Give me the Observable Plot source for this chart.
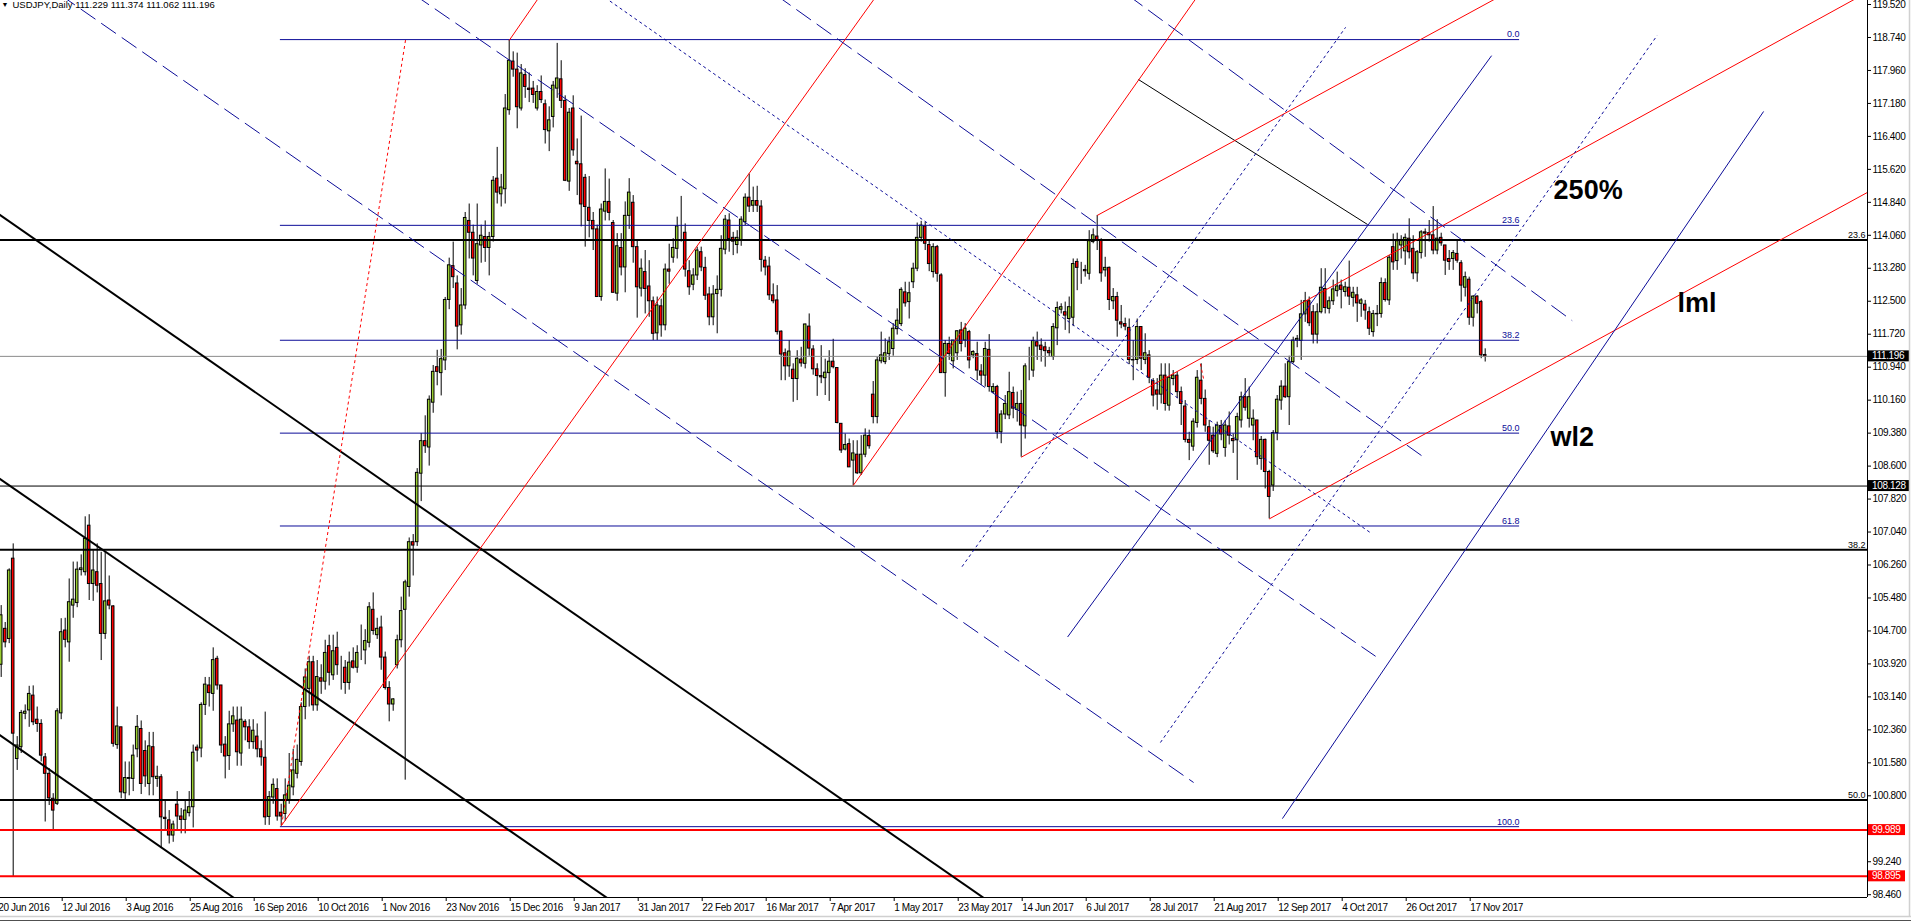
<!DOCTYPE html>
<html><head><meta charset="utf-8">
<script src="https://cdn.jsdelivr.net/npm/d3@7"></script>
<script src="https://cdn.jsdelivr.net/npm/@observablehq/plot@0.6"></script>
<style>html,body{margin:0;padding:0;background:#fff;overflow:hidden;}#chart svg{display:block;}
#chart svg [aria-label="x-axis tick label"],#chart svg [aria-label="y-axis tick label"],#chart svg .pricebox{letter-spacing:-0.35px;}</style>
</head><body><div id="chart"></div>
<script>
// ---------- DATA ----------
const symbolTitle = "USDJPY,Daily 111.229 111.374 111.062 111.196";
const firstBar = 1; // bar index of the first candle (bar 0 = 20 Jun 2016)

const opens = [
103.9,104.75,104.51,106.41,101.67,101.95,102.74,102.82,103.17,102.6,
102.5,101.71,101.32,100.73,100.61,102.75,104.71,104.43,105.3,105.36,
106.14,106.09,107.19,105.81,106.09,105.81,104.63,105.42,105.28,102.0,
102.42,100.86,101.2,101.2,101.9,102.38,101.86,101.08,101.95,101.2,
101.24,100.28,100.22,99.86,100.59,100.31,100.23,100.39,100.53,101.94,
101.92,102.95,103.41,103.21,104.04,103.41,102.01,101.74,102.49,102.58,
101.8,102.55,102.42,102.07,102.2,101.9,101.7,100.3,100.76,100.96,
100.4,100.37,100.7,101.0,101.32,101.6,102.9,103.33,103.96,102.94,
103.58,103.5,104.34,103.65,104.3,103.87,103.83,103.47,103.98,103.83,
104.2,104.24,104.42,105.2,104.6,104.78,104.07,103.35,102.96,103.89,
104.48,105.2,105.74,106.8,106.8,108.42,109.19,109.04,110.1,110.94,
110.8,111.1,112.53,113.33,112.92,111.93,112.4,114.4,114.12,112.98,
113.82,114.02,113.76,114.02,115.4,115.03,115.15,117.02,118.17,117.98,
117.06,117.85,117.53,117.53,117.06,117.45,117.16,116.52,116.86,117.53,
117.75,117.24,115.33,117.06,115.8,115.74,115.42,114.71,114.4,114.2,
112.6,114.62,114.85,114.35,112.68,113.76,113.3,114.52,114.83,113.78,
112.8,113.19,112.85,112.5,111.74,112.38,111.93,113.25,113.53,113.74,
114.2,114.12,113.21,112.89,113.11,113.66,113.29,112.66,112.12,112.67,
112.77,113.72,114.41,114.0,113.83,113.95,114.37,114.95,114.76,114.87,
114.74,113.46,113.32,112.64,112.52,111.78,111.27,110.96,110.88,110.66,
111.12,111.02,111.9,111.36,110.89,110.73,110.68,110.8,111.07,110.92,
109.6,108.99,109.12,108.73,108.87,108.43,108.87,109.31,110.29,109.76,
111.08,111.06,111.25,111.37,111.84,111.96,112.71,112.48,112.95,113.27,
114.0,114.27,113.83,113.19,113.78,113.11,110.8,111.49,111.08,111.27,
111.81,111.57,111.77,111.22,111.25,110.84,110.74,111.35,110.35,110.47,
109.4,109.82,109.8,110.33,109.93,110.07,109.54,110.9,110.86,111.53,
111.45,111.41,111.32,111.18,111.86,112.3,112.24,112.08,112.11,113.43,
113.24,113.24,113.15,113.9,114.03,113.94,113.23,113.29,112.5,112.6,
112.0,111.96,111.87,111.11,111.11,111.89,111.11,111.22,110.61,110.39,
110.29,110.74,110.03,110.66,110.74,110.35,110.01,109.22,109.06,109.62,
110.62,110.19,109.52,109.32,108.89,109.55,109.03,109.54,109.24,109.21,
109.68,110.23,109.72,109.56,109.68,108.77,109.22,108.46,108.14,109.38,
110.15,110.48,110.23,111.06,111.57,111.56,112.19,112.5,112.24,111.71,
112.24,112.79,112.32,112.5,112.74,112.87,112.72,112.82,112.58,112.64,
112.44,112.42,112.24,111.77,112.19,112.2,112.93,112.52,113.78,113.45,
113.82,113.68,113.98,113.74,113.16,113.64,114.13,114.11,114.06,113.7,
114.0,113.82,113.5,113.5,113.62,113.4,112.82,113.01,112.11,112.61,
112.48,111.229];

const highs = [
105.3,104.9,106.17,106.76,102.2,102.82,102.95,103.39,103.4,102.9,
102.6,101.8,101.44,100.85,102.86,104.99,105.0,105.93,106.33,106.33,
106.5,107.4,107.45,106.6,106.76,106.56,106.56,106.0,105.3,102.9,
102.42,101.6,101.6,102.0,102.7,102.57,102.1,102.3,102.3,101.5,
101.3,100.7,100.45,100.2,100.9,100.5,100.7,100.9,102.0,102.0,
103.0,103.6,103.6,104.3,104.1,103.4,102.2,102.8,102.9,102.9,
102.9,102.6,102.6,102.6,102.5,102.1,102.78,100.9,101.2,101.2,
100.6,101.2,101.8,101.9,102.0,103.0,103.8,104.1,104.1,104.0,
103.9,104.48,104.6,104.6,104.67,104.1,104.0,104.2,104.3,104.35,
104.84,104.73,105.37,105.6,105.0,105.05,104.2,103.5,103.1,104.6,
105.5,105.9,106.9,106.98,108.54,109.37,109.79,110.26,110.98,111.34,
111.36,112.59,113.52,113.9,113.1,112.8,114.6,114.8,114.3,114.8,
114.3,114.4,114.13,115.45,116.14,115.5,117.39,118.67,118.4,118.37,
118.1,118.0,117.9,117.7,117.6,117.83,117.26,117.1,117.7,118.6,
118.19,117.36,117.06,117.36,116.34,116.88,115.5,115.45,114.6,114.3,
114.8,115.63,115.39,114.41,114.1,114.1,114.85,115.4,115.0,113.95,
113.5,113.7,113.46,112.6,112.6,112.55,113.38,113.85,113.98,114.49,
114.98,114.33,113.46,113.27,113.78,113.78,113.54,112.83,112.87,113.1,
114.05,114.53,114.57,114.13,114.17,114.5,115.04,115.51,115.2,115.22,
114.88,113.56,113.54,112.91,112.87,111.8,111.37,111.57,111.02,111.33,
111.41,111.96,112.2,111.45,111.02,111.45,111.13,111.33,111.6,110.92,
109.6,109.36,109.24,109.2,109.2,109.32,109.48,109.45,110.6,111.17,
111.77,111.61,111.65,111.97,112.32,112.82,112.95,112.95,113.4,114.35,
114.39,114.37,113.93,113.86,113.82,113.15,111.57,111.65,111.57,111.8,
112.0,111.97,111.81,111.33,111.53,111.0,111.53,111.71,110.55,110.51,
109.91,110.27,110.82,110.47,110.35,110.39,111.02,111.41,111.65,111.77,
111.61,111.53,111.41,111.97,112.48,112.44,112.48,112.6,113.5,113.5,
113.42,113.35,114.17,114.21,114.53,113.98,113.54,113.31,112.8,112.71,
112.4,112.1,112.08,111.57,112.08,111.9,111.73,111.33,110.67,110.67,
111.02,111.02,111.02,110.86,110.82,110.47,110.15,109.4,109.72,110.86,
111.02,110.4,109.68,109.52,109.64,109.68,109.68,109.88,109.36,109.85,
110.35,110.67,110.47,109.93,109.68,109.3,109.24,108.5,109.44,110.27,
110.62,111.02,111.2,111.65,111.69,112.52,112.71,112.6,112.4,112.44,
113.27,113.27,112.6,113.0,113.19,113.0,112.95,113.45,112.83,112.83,
112.56,112.52,112.36,112.28,112.4,113.05,113.03,113.58,114.09,114.11,
114.05,114.09,114.45,114.05,113.7,114.17,114.21,114.41,114.74,114.43,
114.11,113.82,113.7,113.7,113.94,113.46,113.19,113.07,112.63,112.63,
112.52,111.374];

const lows = [
103.6,104.3,104.4,98.89,101.4,101.8,102.6,102.42,102.46,102.3,
101.6,100.18,100.57,99.99,100.57,102.6,104.3,103.96,105.0,105.25,
106.0,106.0,105.42,105.4,105.6,104.0,104.5,105.2,101.95,101.9,
100.73,100.7,100.8,100.9,101.7,100.83,101.0,100.8,100.8,101.0,
99.55,100.0,99.66,99.7,100.0,99.9,99.9,100.3,100.04,101.6,
101.7,102.7,102.9,102.8,103.3,101.8,101.2,101.4,102.3,101.5,
101.5,102.1,101.9,101.9,101.7,101.5,100.1,100.1,100.6,100.2,
100.08,100.2,100.6,100.8,101.2,101.5,102.6,102.9,102.8,102.8,
103.2,103.3,103.4,103.53,103.65,103.3,103.2,103.3,103.8,103.7,
104.0,103.9,104.3,104.6,104.5,103.77,103.3,102.55,102.8,103.8,
104.3,101.17,105.5,106.0,106.7,107.76,108.9,108.6,109.85,110.5,
110.26,110.86,112.3,112.8,111.35,111.7,112.3,113.5,113.1,112.9,
113.4,113.42,113.1,113.9,114.8,114.73,114.8,116.9,117.8,116.58,
117.0,117.3,117.2,117.18,117.0,117.18,116.22,116.04,116.6,117.3,
117.06,115.33,115.1,115.93,115.0,114.26,113.78,114.0,113.7,112.6,
112.5,114.4,114.4,112.7,112.5,113.1,112.7,114.2,113.4,112.1,
112.6,112.2,112.12,111.57,111.57,111.65,111.8,112.9,113.4,113.5,
113.9,113.07,112.64,112.75,112.99,113.2,112.52,111.92,111.92,111.73,
112.6,113.6,113.66,113.58,113.62,113.8,114.29,114.6,114.6,114.6,
113.19,113.1,112.52,112.44,111.7,110.62,110.62,110.7,110.11,110.15,
110.94,110.9,111.2,110.75,110.25,110.55,110.27,110.13,110.9,109.6,
108.9,108.96,108.57,108.14,108.4,108.38,108.8,109.0,109.6,109.6,
111.02,111.0,111.1,111.2,111.7,111.9,112.36,112.08,112.8,113.2,
113.9,113.7,113.2,113.05,112.95,110.8,110.23,111.1,110.9,111.1,
111.3,111.4,110.9,111.14,110.62,110.51,110.47,110.35,110.31,109.24,
109.13,109.7,109.7,109.72,109.64,108.81,109.24,110.62,110.7,111.1,
111.06,110.94,111.18,111.1,111.45,112.2,111.81,111.73,111.9,112.75,
112.9,113.07,113.0,113.86,113.7,112.95,113.07,112.28,112.3,111.65,
111.85,111.8,111.0,110.62,111.0,110.86,111.0,110.55,110.0,109.92,
110.07,109.9,109.9,110.5,110.2,109.56,109.15,108.73,108.95,109.5,
110.05,109.4,108.62,108.9,108.8,109.2,108.81,109.1,108.9,108.26,
109.5,109.9,109.5,109.2,108.62,108.5,108.06,107.35,108.0,109.2,
109.92,110.2,109.56,111.02,111.4,111.1,112.0,111.9,111.49,111.49,
112.2,112.2,112.2,112.4,112.6,112.32,112.6,112.4,112.36,112.0,
112.12,112.05,111.69,111.65,111.9,112.1,112.48,112.4,113.23,113.23,
113.5,113.35,113.5,113.01,112.95,113.5,113.54,113.9,113.6,113.6,
113.8,113.11,113.23,113.23,113.4,112.48,112.6,111.93,111.89,112.2,
111.14,111.062];

const closes = [
105.07,104.43,106.13,102.27,101.99,102.76,102.79,103.21,102.54,102.5,
101.75,101.32,100.74,100.45,102.8,104.67,104.49,105.38,105.44,106.15,
106.18,106.88,105.81,106.13,105.77,104.63,105.4,105.3,102.03,102.44,
100.88,101.22,101.22,101.75,102.43,101.08,101.26,101.97,101.24,101.25,
100.29,100.25,99.86,100.12,100.31,100.23,100.45,100.53,101.82,101.87,
102.95,103.43,103.23,104.01,103.41,101.99,101.73,102.49,102.68,101.83,
102.6,102.42,102.07,102.34,101.9,101.71,100.29,100.77,101.06,100.31,
100.31,100.81,101.04,101.4,101.65,102.9,103.6,103.96,102.94,103.61,
103.5,104.18,103.71,104.22,103.89,103.87,103.47,103.95,103.83,104.18,
104.2,104.46,105.26,104.7,104.75,104.07,103.35,102.96,103.08,104.48,
105.17,105.85,106.8,106.72,108.44,109.19,109.07,110.17,110.83,110.83,
111.13,112.53,113.35,113.07,111.9,112.4,114.47,114.12,113.51,113.85,
114.05,113.76,114.02,115.35,115.07,115.19,117.06,118.19,117.98,117.09,
117.89,117.57,117.5,117.38,117.45,117.26,116.55,116.78,117.6,117.77,
117.24,115.35,116.96,116.07,115.74,114.79,114.73,114.4,114.2,112.6,
114.67,114.85,114.59,112.7,113.8,113.3,114.52,115.07,113.78,112.83,
113.27,112.79,112.5,111.73,112.4,111.93,113.25,113.2,113.76,114.27,
114.2,113.25,112.83,113.11,113.7,113.3,112.63,112.12,112.66,112.77,
113.74,114.43,113.97,113.91,114.0,114.43,114.95,114.74,114.87,114.76,
113.48,113.3,112.64,112.5,111.77,111.24,110.96,111.31,110.66,111.14,
111.03,111.95,111.38,110.89,110.73,110.7,110.81,111.07,110.94,109.62,
108.97,109.1,108.57,108.9,108.43,108.87,109.32,109.07,109.76,111.1,
111.22,111.27,111.53,111.85,112.04,112.77,112.45,112.69,113.27,114.0,
114.29,113.86,113.38,113.78,113.15,110.8,111.49,111.25,111.57,111.79,
111.49,111.85,111.1,111.3,110.86,110.74,111.37,110.47,110.47,109.4,
109.82,110.07,110.35,109.96,110.07,109.56,110.96,110.9,111.56,111.43,
111.35,111.32,111.27,111.89,112.34,112.36,112.16,112.36,113.38,113.29,
113.24,113.21,113.92,114.06,113.94,113.16,113.29,112.53,112.6,112.04,
111.95,111.9,111.11,111.1,111.89,111.14,111.27,110.69,110.27,110.29,
110.74,110.07,110.69,110.74,110.35,110.07,109.22,109.15,109.65,110.69,
110.19,109.56,109.2,108.95,109.56,109.35,109.56,109.32,109.19,109.76,
110.23,109.98,110.23,109.72,108.81,109.22,108.46,107.87,109.38,110.17,
110.48,110.23,111.06,111.57,111.61,112.19,112.5,111.98,111.71,112.24,
112.82,112.34,112.5,112.78,112.85,112.77,112.83,112.61,112.7,112.45,
112.52,112.28,111.85,112.2,112.2,112.93,112.53,113.53,113.42,113.92,
113.95,114.0,113.66,113.16,113.66,114.13,114.1,114.06,113.7,113.98,
113.87,113.46,113.43,113.64,113.46,112.87,113.07,112.11,112.61,112.44,
111.22,111.196];

const dateLabels = ["20 Jun 2016","12 Jul 2016","3 Aug 2016","25 Aug 2016","16 Sep 2016","10 Oct 2016",
"1 Nov 2016","23 Nov 2016","15 Dec 2016","9 Jan 2017","31 Jan 2017","22 Feb 2017","16 Mar 2017",
"7 Apr 2017","1 May 2017","23 May 2017","14 Jun 2017","6 Jul 2017","28 Jul 2017","21 Aug 2017",
"12 Sep 2017","4 Oct 2017","26 Oct 2017","17 Nov 2017"];
const barsPerDateLabel = 16;

// price scale labels (the 100.020 tick is hidden behind the 99.989 price box in the reference)
const priceTicks = [98.46,99.24,100.80,101.58,102.36,103.14,103.92,104.70,105.48,106.26,107.04,
107.82,108.60,109.38,110.16,110.94,111.72,112.50,113.28,114.06,114.84,115.62,116.40,117.18,117.96,118.74,119.52];

// horizontal levels
const blackLevels = [{price:113.95,label:"23.6"},{price:106.62,label:"38.2"},{price:100.70,label:"50.0"}];
const thinBlackLevel = [108.128];
const currentPrice = [111.196];
const redLevels = [99.989, 98.895];
const fibFromBar = 70.8, fibToBar = 380.6;
const fibLevels = [{price:118.69,label:"0.0"},{price:114.296,label:"23.6"},{price:111.577,label:"38.2"},
{price:109.38,label:"50.0"},{price:107.183,label:"61.8"},{price:100.07,label:"100.0"}];

// trend lines: [bar1, price1, bar2, price2]
const blackChannelLines = [[-9.2,115.19,250.8,98.11],[-9.18,108.94,160.8,97.84],[-9.18,102.88,65.8,97.95]];
const blackThinLines = [[285.3,117.746,342.6,114.315]];
const redSolidLines = [[71.1,100.10,222.5,120.08],[128,118.67,138.3,120.08],[214,108.14,302.8,120.08],
[256,108.81,470.8,119.98],[275,114.53,382.8,120.08],[318,107.35,475.8,115.50]];
const redDotLines = [[71.1,100.10,102.1,118.69],[300.8,111.02,301.6,110.66]];
const blueDashLines = [[10.6,120.09,299.1,101.115],[99.1,120.09,344.6,104.10],[189.6,120.09,356.5,108.82],[277.65,120.09,393.75,112.04]];
const blueDotLines = [[145.8,120.09,343.6,107.005],[241.2,106.22,337.1,118.98],[290.8,102.06,415.0,118.79]];
const blueSolidLines = [[267.6,104.557,373.6,118.31],[321.3,100.26,441.6,116.99]];

const notes = [{text:"250%",bar:389.1,price:115.12},{text:"lml",bar:420.1,price:112.44},{text:"wl2",bar:388.3,price:109.28}];
const axisPriceBoxes = [{price:111.196,label:"111.196",kind:"black"},{price:108.128,label:"108.128",kind:"black"},
{price:99.989,label:"99.989",kind:"red"},{price:98.895,label:"98.895",kind:"red"}];

// ---------- BUILD ----------
const n = Math.min(opens.length, highs.length, lows.length, closes.length);
const candles = d3.range(n).map(k => ({bar: k + firstBar, open: opens[k], high: highs[k], low: lows[k], close: closes[k]}));
const seg = a => a.map(([b1,p1,b2,p2]) => ({b1,p1,b2,p2}));
const dateTicks = dateLabels.map((_, k) => k * barsPerDateLabel);
const dateMap = new Map(dateTicks.map((t, k) => [t, dateLabels[k]]));

const BLUE = "#0c0c98", RED = "#ff0000", BULL = "#9acd32";
const NARROW = "'Liberation Sans Narrow','Liberation Sans',Arial,sans-serif";
const xDomain = [0.825, 467.575];
const yDomain = [98.394, 119.615];

const linkOpts = (extra) => Object.assign({x1:"b1", y1:"p1", x2:"b2", y2:"p2", clip:true}, extra);

const chart = Plot.plot({
  width: 1911, height: 923,
  marginLeft: 0, marginTop: 0, marginRight: 44, marginBottom: 26,
  style: {fontFamily: "'Liberation Sans',Arial,sans-serif", fontSize: "9px", background: "#fff", color: "#000"},
  x: {type: "linear", domain: xDomain},
  y: {type: "linear", domain: yDomain},
  marks: [
    // candles
    Plot.ruleX(candles, {x: "bar", y1: d => Math.min(d.low, d.open, d.close), y2: d => Math.max(d.high, d.open, d.close), stroke: "#000", strokeWidth: 1}),
    Plot.rect(candles, {x1: d => d.bar - 0.32, x2: d => d.bar + 0.32, y1: "open", y2: "close",
      fill: d => d.close >= d.open ? BULL : RED, stroke: "#000", strokeWidth: 1}),
    // horizontal levels
    Plot.ruleY(fibLevels, {y: "price", x1: fibFromBar, x2: fibToBar, stroke: BLUE, strokeWidth: 1}),
    Plot.ruleY(currentPrice, {stroke: "#8a8a8a", strokeWidth: 1}),
    Plot.ruleY(thinBlackLevel, {stroke: "#000", strokeWidth: 1}),
    Plot.ruleY(blackLevels, {y: "price", stroke: "#000", strokeWidth: 2}),
    Plot.ruleY(redLevels, {stroke: RED, strokeWidth: 2}),
    // trend lines
    Plot.link(seg(blackChannelLines), linkOpts({stroke: "#000", strokeWidth: 2})),
    Plot.link(seg(blackThinLines), linkOpts({stroke: "#000", strokeWidth: 1})),
    Plot.link(seg(redSolidLines), linkOpts({stroke: RED, strokeWidth: 1})),
    Plot.link(seg(redDotLines), linkOpts({stroke: RED, strokeWidth: 1, strokeDasharray: "3,3"})),
    Plot.link(seg(blueDashLines), linkOpts({stroke: BLUE, strokeWidth: 1, strokeDasharray: "18,7"})),
    Plot.link(seg(blueDotLines), linkOpts({stroke: BLUE, strokeWidth: 1, strokeDasharray: "3,3"})),
    Plot.link(seg(blueSolidLines), linkOpts({stroke: BLUE, strokeWidth: 1})),
    // labels on levels
    Plot.text(fibLevels, {x: fibToBar, y: "price", text: "label", textAnchor: "end", dy: -5, fill: BLUE, fontSize: 9}),
    Plot.text(blackLevels, {frameAnchor: "right", y: "price", text: "label", textAnchor: "end", dx: -2, dy: -5, fill: "#000", fontSize: 9}),
    // annotations
    Plot.text(notes, {x: "bar", y: "price", text: "text", textAnchor: "start", lineAnchor: "middle", fontSize: 27, fontWeight: "bold", fill: "#000"}),
    // header
    Plot.text(["\u25BC"], {frameAnchor: "top-left", dx: 1, dy: 2, fontSize: 7, fill: "#000"}),
    Plot.text([symbolTitle], {frameAnchor: "top-left", dx: 12, dy: 1, fontSize: 9.5, fill: "#000"}),
    // frame
    Plot.ruleX([xDomain[1]], {stroke: "#000", strokeWidth: 1}),
    Plot.ruleY([yDomain[0]], {stroke: "#000", strokeWidth: 1}),
    // axes
    Plot.axisX({anchor: "bottom", ticks: dateTicks, tickFormat: d => dateMap.get(d), tickSize: 4, tickPadding: 2,
      textAnchor: "start", dx: 1, fontSize: 10, fontFamily: NARROW, label: null}),
    Plot.axisY({anchor: "right", ticks: priceTicks, tickFormat: d => d.toFixed(3), tickSize: 3, tickPadding: 2,
      fontSize: 10, fontFamily: NARROW, label: null})
  ]
});

const svgEl = chart.tagName.toLowerCase() === "svg" ? chart : chart.querySelector("svg");
const ys = chart.scale("y");
const svg = d3.select(svgEl);
const right = 1911 - 44;
const g = svg.append("g").attr("text-anchor", "start");
for (const b of axisPriceBoxes) {
  const yy = ys.apply(b.price);
  g.append("rect").attr("x", right + 1).attr("y", yy - 5.5).attr("width", b.label.length > 6 ? 42 : 37).attr("height", 11)
    .attr("fill", b.kind === "red" ? RED : "#000");
  g.append("text").attr("class", "pricebox").attr("x", right + 5).attr("y", yy).attr("dy", "0.36em").attr("fill", "#fff")
    .attr("text-anchor", "start").attr("font-size", 10).attr("font-family", NARROW).text(b.label);
}
// window border
g.append("line").attr("x1", 0).attr("x2", 1911).attr("y1", 916.5).attr("y2", 916.5).attr("stroke", "#d0d0d0").attr("stroke-width", 1.5);
g.append("line").attr("x1", 0).attr("x2", 1911).attr("y1", 920.5).attr("y2", 920.5).attr("stroke", "#505050").attr("stroke-width", 1);
g.append("line").attr("x1", 1909.5).attr("x2", 1909.5).attr("y1", 0).attr("y2", 917).attr("stroke", "#d0d0d0").attr("stroke-width", 1.5);

document.getElementById("chart").appendChild(chart);
</script></body></html>
